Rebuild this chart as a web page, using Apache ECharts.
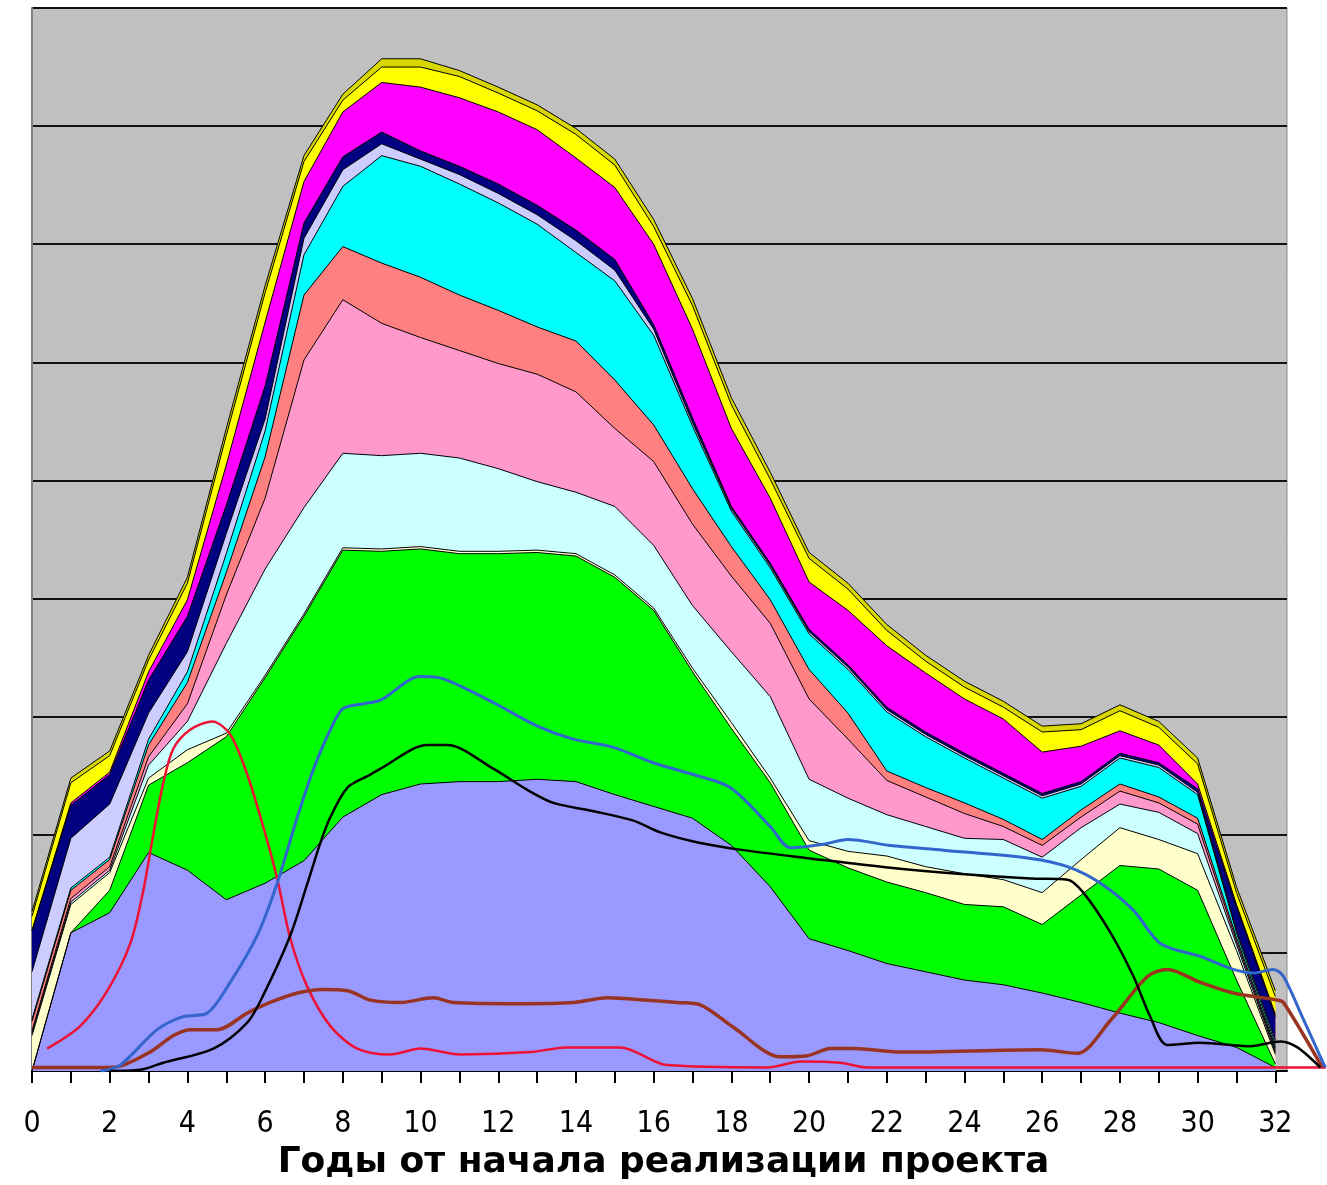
<!DOCTYPE html>
<html>
<head>
<meta charset="utf-8">
<script src="https://cdn.jsdelivr.net/npm/echarts@6/dist/echarts.min.js"></script>
<style>
  html, body { margin: 0; padding: 0; background: #fff; }
  #main { width: 1327px; height: 1185px; }
</style>
</head>
<body>
<div id="main"></div>
<script>
// годы (ось X) и подписи
const years = [0, 1, 2, 3, 4, 5, 6, 7, 8, 9, 10, 11, 12, 13, 14, 15, 16, 17, 18, 19, 20, 21, 22, 23, 24, 25, 26, 27, 28, 29, 30, 31, 32]
const yearLabels = [0, 2, 4, 6, 8, 10, 12, 14, 16, 18, 20, 22, 24, 26, 28, 30, 32]

// слои (снизу вверх), значения по годам
const violet = [0, 1.17, 1.34, 1.85, 1.70, 1.45, 1.59, 1.78, 2.15, 2.34, 2.43, 2.45, 2.45, 2.47, 2.45, 2.34, 2.24, 2.14, 1.91, 1.56, 1.12, 1.02, 0.91, 0.84, 0.77, 0.73, 0.66, 0.58, 0.49, 0.41, 0.30, 0.20, 0.03]
const green = [0, 0, 0.19, 0.57, 0.91, 1.38, 1.74, 2.07, 2.26, 2.06, 1.99, 1.93, 1.93, 1.92, 1.91, 1.84, 1.66, 1.24, 0.99, 0.88, 0.75, 0.70, 0.69, 0.67, 0.64, 0.66, 0.58, 0.91, 1.25, 1.30, 1.23, 0.57, 0.03]
const cream = [0.30, 0.24, 0.15, 0.06, 0.11, 0.03, 0.02, 0.02, 0.02, 0.02, 0.02, 0.02, 0.02, 0.02, 0.02, 0.02, 0.02, 0.03, 0.05, 0.04, 0.08, 0.14, 0.22, 0.22, 0.26, 0.23, 0.27, 0.30, 0.32, 0.25, 0.31, 0.25, 0.08]
const lightCyan = [0.02, 0.02, 0.02, 0.11, 0.24, 0.76, 0.90, 0.90, 0.80, 0.79, 0.79, 0.79, 0.70, 0.58, 0.52, 0.58, 0.53, 0.53, 0.60, 0.69, 0.52, 0.45, 0.35, 0.34, 0.30, 0.34, 0.30, 0.27, 0.20, 0.23, 0.17, 0.05, 0.02]
const pink = [0.02, 0.03, 0.03, 0.07, 0.15, 0.41, 0.60, 1.25, 1.30, 1.12, 0.98, 0.91, 0.89, 0.91, 0.85, 0.66, 0.71, 0.69, 0.64, 0.62, 0.68, 0.50, 0.29, 0.25, 0.21, 0.11, 0.10, 0.09, 0.11, 0.08, 0.08, 0.03, 0.02]
const salmon = [0.08, 0.07, 0.06, 0.10, 0.18, 0.19, 0.35, 0.55, 0.45, 0.51, 0.51, 0.47, 0.45, 0.40, 0.43, 0.41, 0.31, 0.30, 0.25, 0.20, 0.25, 0.22, 0.08, 0.08, 0.09, 0.06, 0.05, 0.06, 0.06, 0.05, 0.05, 0.03, 0.02]
const cyan = [0.02, 0.02, 0.02, 0.05, 0.09, 0.16, 0.22, 0.34, 0.51, 0.91, 0.94, 0.94, 0.91, 0.87, 0.75, 0.84, 0.76, 0.53, 0.30, 0.27, 0.30, 0.37, 0.50, 0.43, 0.38, 0.35, 0.35, 0.20, 0.22, 0.25, 0.20, 0.04, 0.03]
const lavender = [0.40, 0.42, 0.45, 0.22, 0.17, 0.17, 0.10, 0.14, 0.14, 0.10, 0.06, 0.08, 0.08, 0.08, 0.10, 0.09, 0.05, 0.03, 0.02, 0.02, 0.02, 0.02, 0.02, 0.02, 0.02, 0.02, 0.02, 0.02, 0.02, 0.02, 0.02, 0.02, 0.03]
const navy = [0.35, 0.28, 0.25, 0.28, 0.30, 0.24, 0.28, 0.13, 0.11, 0.10, 0.07, 0.07, 0.08, 0.08, 0.09, 0.09, 0.04, 0.04, 0.02, 0.02, 0.02, 0.02, 0.02, 0.02, 0.02, 0.02, 0.02, 0.02, 0.02, 0.02, 0.03, 0.20, 0.20]
const magenta = [0, 0.02, 0.02, 0.07, 0.14, 0.34, 0.54, 0.35, 0.38, 0.42, 0.54, 0.58, 0.61, 0.64, 0.61, 0.61, 0.68, 0.75, 0.66, 0.55, 0.40, 0.46, 0.52, 0.50, 0.46, 0.46, 0.35, 0.30, 0.19, 0.15, 0.04, 0.02, 0.02]
const yellow = [0.12, 0.17, 0.14, 0.10, 0.14, 0.25, 0.25, 0.17, 0.10, 0.13, 0.17, 0.18, 0.16, 0.16, 0.20, 0.19, 0.15, 0.20, 0.20, 0.16, 0.20, 0.18, 0.13, 0.10, 0.10, 0.10, 0.17, 0.14, 0.17, 0.15, 0.17, 0.10, 0.15]
const olive = [0.04, 0.04, 0.04, 0.04, 0.05, 0.06, 0.06, 0.05, 0.05, 0.07, 0.07, 0.05, 0.05, 0.05, 0.05, 0.05, 0.06, 0.06, 0.06, 0.06, 0.05, 0.05, 0.05, 0.05, 0.05, 0.05, 0.05, 0.05, 0.05, 0.05, 0.05, 0.05, 0.05]

// отдельные линии: [год, значение]
const redLine = [[0.39, 0.19], [1.24, 0.38], [1.94, 0.68], [2.53, 1.08], [2.86, 1.52], [3.12, 2.00], [3.38, 2.44], [3.64, 2.73], [4.07, 2.89], [4.64, 2.96], [5.10, 2.85], [5.54, 2.51], [5.95, 2.07], [6.31, 1.63], [6.65, 1.12], [7.09, 0.71], [7.68, 0.38], [8.37, 0.19], [9.22, 0.14], [10.0, 0.19], [11.02, 0.14], [12.83, 0.16], [13.73, 0.20], [15.14, 0.20], [16.35, 0.05], [18.93, 0.03], [19.78, 0.08], [20.8, 0.07], [21.5, 0.03], [33.3, 0.03]]
const brownLine = [[0, 0.03], [2.0, 0.03], [2.35, 0.05], [3.04, 0.16], [3.64, 0.30], [4.07, 0.35], [4.77, 0.35], [5.54, 0.49], [6.13, 0.58], [6.83, 0.66], [7.50, 0.69], [8.12, 0.68], [8.71, 0.60], [9.48, 0.58], [10.33, 0.62], [10.84, 0.58], [12.57, 0.57], [13.93, 0.58], [14.81, 0.62], [15.84, 0.60], [16.61, 0.58], [17.2, 0.56], [18.05, 0.37], [19.26, 0.12], [19.96, 0.13], [20.55, 0.19], [21.14, 0.19], [22.35, 0.16], [25.95, 0.18], [26.9, 0.15], [27.76, 0.43], [28.71, 0.80], [29.22, 0.86], [30.07, 0.75], [30.92, 0.66], [32.05, 0.60], [32.21, 0.58], [33.21, 0.03]]
const blueLine = [[1.76, 0], [2.27, 0.05], [3.22, 0.35], [3.89, 0.46], [4.51, 0.49], [5.10, 0.75], [5.80, 1.15], [6.31, 1.59], [6.83, 2.15], [7.24, 2.55], [7.68, 2.89], [8.01, 3.07], [8.53, 3.11], [8.97, 3.14], [9.99, 3.34], [10.59, 3.32], [11.87, 3.12], [13.01, 2.92], [13.93, 2.81], [14.96, 2.74], [15.99, 2.61], [17.02, 2.51], [17.97, 2.40], [19.0, 2.07], [19.52, 1.89], [20.37, 1.92], [20.99, 1.96], [22.09, 1.91], [23.46, 1.87], [25.70, 1.80], [26.65, 1.73], [27.50, 1.59], [28.35, 1.36], [29.04, 1.08], [30.07, 0.97], [30.92, 0.86], [31.44, 0.83], [31.95, 0.86], [32.21, 0.80], [32.65, 0.49], [33.16, 0.12], [33.29, 0.03]]
const blackLine = [[2.0, 0], [2.79, 0.01], [3.38, 0.07], [4.67, 0.19], [5.54, 0.41], [5.95, 0.64], [6.65, 1.15], [7.09, 1.59], [7.42, 1.93], [7.68, 2.15], [8.12, 2.40], [8.71, 2.51], [8.97, 2.56], [10.17, 2.76], [10.69, 2.76], [11.87, 2.56], [12.75, 2.38], [13.42, 2.27], [14.45, 2.20], [15.48, 2.12], [16.17, 2.02], [17.20, 1.93], [18.31, 1.87], [20.03, 1.80], [22.09, 1.72], [23.82, 1.67], [25.70, 1.63], [26.65, 1.62], [27.06, 1.51], [27.76, 1.17], [28.35, 0.80], [28.78, 0.46], [29.22, 0.22], [30.07, 0.24], [31.36, 0.21], [32.13, 0.25], [32.57, 0.20], [33.16, 0.03]]

const layers = [
    { name: 'violet', data: violet, color: '#9999ff' },
    { name: 'green', data: green, color: '#00ff00' },
    { name: 'cream', data: cream, color: '#ffffcc' },
    { name: 'lightCyan', data: lightCyan, color: '#ccffff' },
    { name: 'pink', data: pink, color: '#ff99cc' },
    { name: 'salmon', data: salmon, color: '#ff8080' },
    { name: 'cyan', data: cyan, color: '#00ffff' },
    { name: 'lavender', data: lavender, color: '#ccccff' },
    { name: 'navy', data: navy, color: '#000080' },
    { name: 'magenta', data: magenta, color: '#ff00ff' },
    { name: 'yellow', data: yellow, color: '#ffff00' },
    { name: 'olive', data: olive, color: '#d8d800' }
]

const lines = [
    { name: 'red', data: redLine, color: '#ee1133', width: 2.5 },
    { name: 'brown', data: brownLine, color: '#993322', width: 3.5 },
    { name: 'blue', data: blueLine, color: '#3366cc', width: 3 },
    { name: 'black', data: blackLine, color: '#000000', width: 2.5 }
]

// накопленные суммы слоёв; рисуем сверху вниз, чтобы нижние слои перекрывали верхние
let running = years.map(() => 0)
const stacked = layers.map(l => {
    running = running.map((v, i) => v + l.data[i])
    return { name: l.name, color: l.color, top: running.slice() }
})

const areaSeries = stacked.slice().reverse().map(l => ({
    name: l.name,
    type: 'line',
    symbol: 'none',
    data: years.map((y, i) => [y, +l.top[i].toFixed(3)]),
    lineStyle: { color: '#000', width: 1 },
    areaStyle: { color: l.color, opacity: 1, origin: 'start' },
    itemStyle: { color: l.color },
    z: 2
}))

// линии лежат в своей сетке, которая тянется чуть правее стенки (до 33.33 года)
const lineSeries = lines.map(l => ({
    name: l.name,
    type: 'line',
    xAxisIndex: 1,
    yAxisIndex: 1,
    symbol: 'none',
    smooth: 0.3,
    data: l.data,
    lineStyle: { color: l.color, width: l.width },
    itemStyle: { color: l.color },
    z: 3
}))

const chart = echarts.init(document.getElementById('main'))
chart.setOption({
    animation: false,
    backgroundColor: '#ffffff',
    title: {
        text: 'Годы от начала реализации проекта',
        left: 'center',
        top: 1140,
        textStyle: { fontFamily: 'DejaVu Sans', fontWeight: 'bold', fontSize: 36, color: '#000' }
    },
    grid: [
        {
            left: 32, right: 40, top: 8, bottom: 114,
            show: true,
            backgroundColor: '#c0c0c0',
            borderColor: '#8c8c8c',
            borderWidth: 1
        },
        { left: 32, right: 0, top: 8, bottom: 114 }
    ],
    xAxis: [
        {
            type: 'value',
            min: 0,
            max: 32.3,
            axisLine: { show: true, lineStyle: { color: '#000', width: 2 } },
            axisTick: { show: true, customValues: years, length: 12, lineStyle: { color: '#000', width: 2 } },
            axisLabel: {
                customValues: yearLabels,
                margin: 38,
                fontFamily: 'Liberation Sans Narrow, DejaVu Sans Condensed, sans-serif',
                fontSize: 30,
                color: '#000'
            },
            splitLine: { show: false }
        },
        {
            gridIndex: 1,
            type: 'value',
            min: 0,
            max: 33.33,
            show: false
        }
    ],
    yAxis: [
        {
            type: 'value',
            min: 0,
            max: 9,
            interval: 1,
            axisLine: { show: true, lineStyle: { color: '#808080', width: 2 } },
            axisTick: { show: false },
            axisLabel: { show: false },
            splitLine: { show: true, lineStyle: { color: '#111', width: 2 } }
        },
        {
            gridIndex: 1,
            type: 'value',
            min: 0,
            max: 9,
            show: false
        }
    ],
    series: areaSeries.concat(lineSeries)
})

window.addEventListener('resize', function () {
    chart && chart.resize()
})
</script>
</body>
</html>
